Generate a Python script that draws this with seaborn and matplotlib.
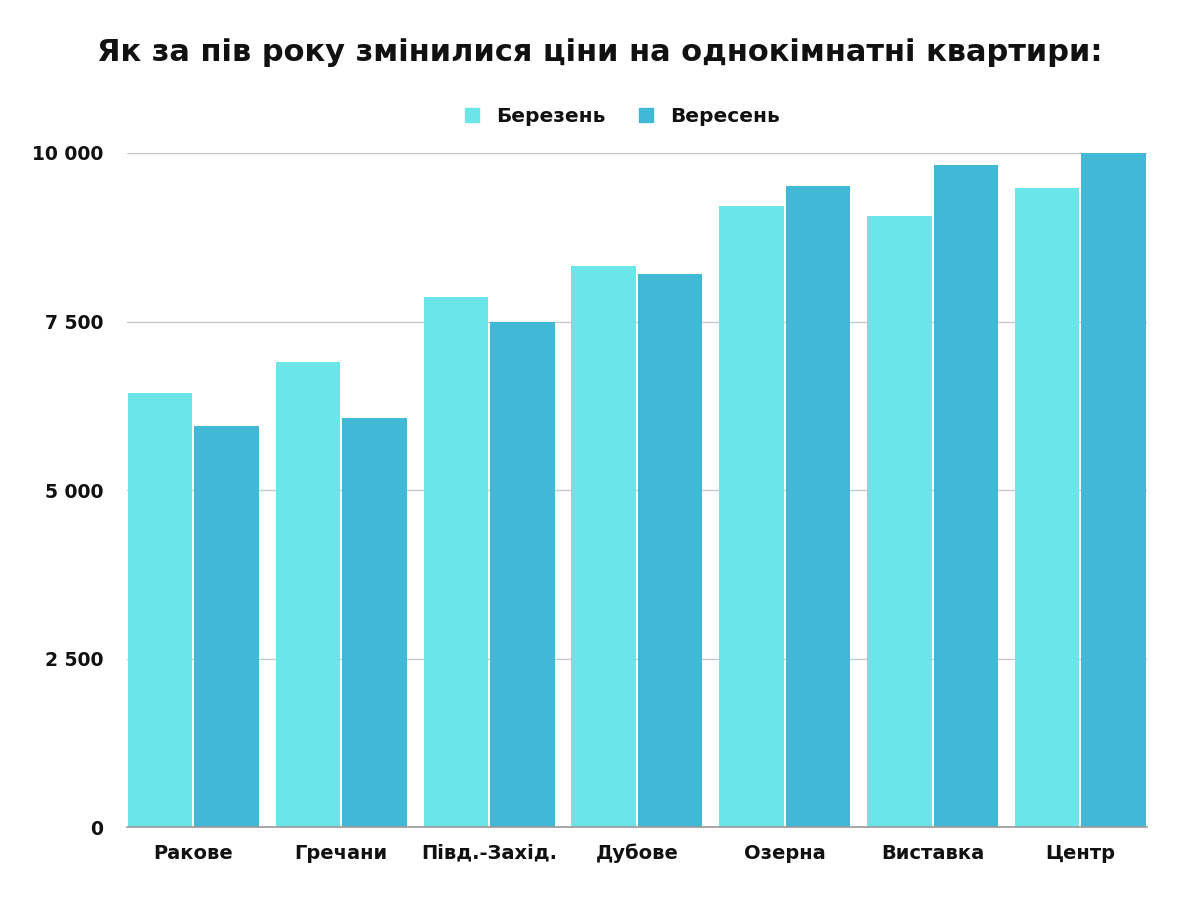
import pandas as pd
import matplotlib.pyplot as plt
import seaborn as sns
from matplotlib.ticker import FuncFormatter

# Data
districts = ['Ракове', 'Гречани', 'Півд.-Захід.', 'Дубове', 'Озерна', 'Виставка', 'Центр']
march = [6440, 6900, 7860, 8320, 9210, 9060, 9480]
september = [5950, 6070, 7500, 8200, 9510, 9820, 10000]
months = ['Березень', 'Вересень']

df = pd.DataFrame({
    'district': districts * 2,
    'month': [months[0]] * len(districts) + [months[1]] * len(districts),
    'price': march + september,
})

colors = {'Березень': '#6ce5e8', 'Вересень': '#41b8d5'}

sns.set_theme(style="white")
plt.rcParams['font.family'] = ['DejaVu Sans']

fig = plt.figure(figsize=(12, 9), dpi=100)
ax = fig.add_axes([0.1058, 0.0811, 0.8500, 0.7489])

sns.barplot(data=df, x='district', y='price', hue='month', palette=colors,
            width=0.9, gap=0.03, order=districts, hue_order=months,
            errorbar=None, ax=ax, legend=False, edgecolor='none', saturation=1)

ax.set_xlim(-0.45, len(districts) - 0.55)
ax.set_ylim(0, 10000)
ax.set_yticks([0, 2500, 5000, 7500, 10000])
ax.yaxis.set_major_formatter(FuncFormatter(lambda v, p: f'{int(v):,}'.replace(',', ' ')))
ax.grid(axis='y', color='#c8c8c8', linewidth=1)
ax.set_axisbelow(True)
for s in ['top', 'right', 'left']:
    ax.spines[s].set_visible(False)
ax.spines['bottom'].set_color('#9a9a9a')
ax.spines['bottom'].set_linewidth(1.2)
ax.set_xlabel('')
ax.set_ylabel('')
ax.tick_params(axis='both', length=0, colors='#111111')
ax.tick_params(axis='y', pad=17, labelsize=13.5)
ax.tick_params(axis='x', pad=12, labelsize=14)
for lbl in ax.get_xticklabels() + ax.get_yticklabels():
    lbl.set_fontweight('bold')

# legend
handles = [plt.Line2D([], [], marker='s', linestyle='none', markersize=10,
                      color=colors[m]) for m in months]
leg = fig.legend(handles, months, loc='center', bbox_to_anchor=(0.513, 0.871), ncol=2,
                 frameon=False, handletextpad=0.2, columnspacing=1.0,
                 prop={'weight': 'bold', 'size': 14.5})
for t in leg.get_texts():
    t.set_color('#111111')

fig.text(0.5, 0.942, 'Як за пів року змінилися ціни на однокімнатні квартири:',
         ha='center', va='center', fontsize=22, fontweight='bold', color='#111111')

fig.savefig('out.png', dpi=100, facecolor='white')
